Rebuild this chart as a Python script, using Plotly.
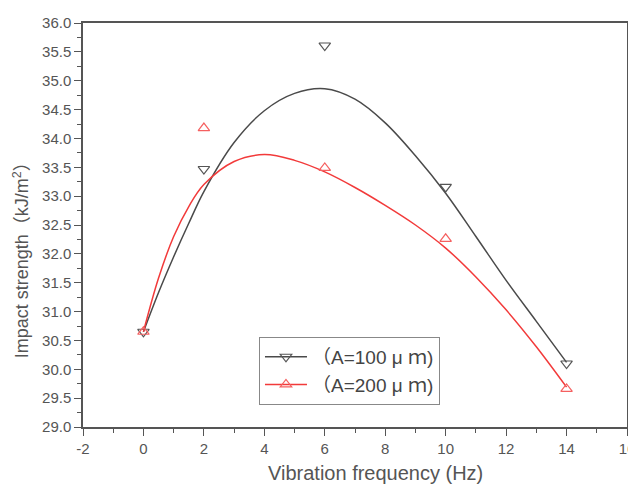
import plotly.graph_objects as go

# measured data points
freq = [0, 2, 6, 10, 14]
a100 = [30.65, 33.47, 35.61, 33.16, 30.10]
a200 = [30.65, 34.18, 33.49, 32.26, 29.66]

# fitted curves
curve_x = [0, 0.5, 1, 1.5, 2, 3, 4, 5, 6, 7, 8, 9, 10, 11, 12, 13, 14]
curve_a100 = [30.65, 31.33, 31.95, 32.53, 33.08, 33.93, 34.48, 34.78, 34.86, 34.68, 34.27, 33.70, 33.05, 32.30, 31.54, 30.83, 30.12]
curve_a200 = [30.65, 31.58, 32.30, 32.82, 33.20, 33.60, 33.72, 33.62, 33.42, 33.15, 32.84, 32.50, 32.10, 31.60, 31.03, 30.39, 29.69]

names = ["（A=100 μ ｍ)", "（A=200 μ ｍ)"]
line_colors = ["#4a4a4a", "#f23a3a"]
marker_colors = ["#555555", "#f56060"]
symbols = ["triangle-down-open", "triangle-up-open"]

xticks = list(range(-2, 17, 2))
yticks = [29.0 + 0.5 * i for i in range(15)]

x_title = "Vibration frequency (Hz)"
y_title = "Impact strength（kJ/m<sup>2</sup>）"

FONT = "Liberation Sans, Arial, Noto Sans CJK SC, sans-serif"

fig = go.Figure()
for cx, cy, px, py, nm, lc, mc, sym in [
    (curve_x, curve_a100, freq, a100, names[0], line_colors[0], marker_colors[0], symbols[0]),
    (curve_x, curve_a200, freq, a200, names[1], line_colors[1], marker_colors[1], symbols[1]),
]:
    fig.add_trace(go.Scatter(x=cx, y=cy, mode="lines",
                             line=dict(color=lc, width=1.5, shape="spline", smoothing=1.0),
                             showlegend=False, hoverinfo="skip"))
    fig.add_trace(go.Scatter(x=px, y=py, mode="markers",
                             marker=dict(symbol=sym, size=10, color=mc, line=dict(width=1.2, color=mc)),
                             showlegend=False))
    # legend entry (line + marker)
    fig.add_trace(go.Scatter(x=[None], y=[None], mode="lines+markers", name=nm,
                             line=dict(color=lc, width=1.5),
                             marker=dict(symbol=sym, size=10, color=mc, line=dict(width=1.2, color=mc))))

axis_common = dict(
    showline=True, linecolor="#555555", linewidth=1.5, mirror=True,
    ticks="outside", ticklen=7, tickwidth=1.2, tickcolor="#555555",
    showgrid=False, zeroline=False, automargin=False,
    tickfont=dict(family=FONT, size=15, color="#555555"),
)

fig.update_xaxes(range=[-2, 16], tickvals=xticks, ticktext=[str(v) for v in xticks],
                 minor=dict(dtick=1, ticks="outside", ticklen=4, tickcolor="#555555", tickwidth=1.2),
                 **axis_common)
fig.update_yaxes(range=[29.0, 36.0], tickvals=yticks, ticktext=[f"{v:.1f}" for v in yticks],
                 minor=dict(dtick=0.25, tick0=29.0, ticks="outside", ticklen=4, tickcolor="#555555", tickwidth=1.2),
                 **axis_common)

# the page adds an 8px body margin, so the figure is sized to fit inside the window
fig.update_layout(
    width=628, height=479,
    margin=dict(l=75, r=9, t=15, b=60),
    paper_bgcolor="white", plot_bgcolor="white",
    legend=dict(x=0.3235, y=0.223, xanchor="left", yanchor="top",
                bordercolor="#888888", borderwidth=1, bgcolor="white",
                font=dict(family=FONT, size=19, color="#444444"),
                itemwidth=42, tracegroupgap=0),
    showlegend=True,
    annotations=[
        dict(text=y_title, textangle=-90,
             xref="paper", yref="paper", x=-0.114, y=0.425,
             xanchor="center", yanchor="middle", showarrow=False,
             font=dict(family=FONT, size=18, color="#555555")),
        dict(text=x_title,
             xref="paper", yref="paper", x=0.537, y=-0.114,
             xanchor="center", yanchor="middle", showarrow=False,
             font=dict(family=FONT, size=20, color="#555555")),
    ],
)

fig.write_html("out.html")
